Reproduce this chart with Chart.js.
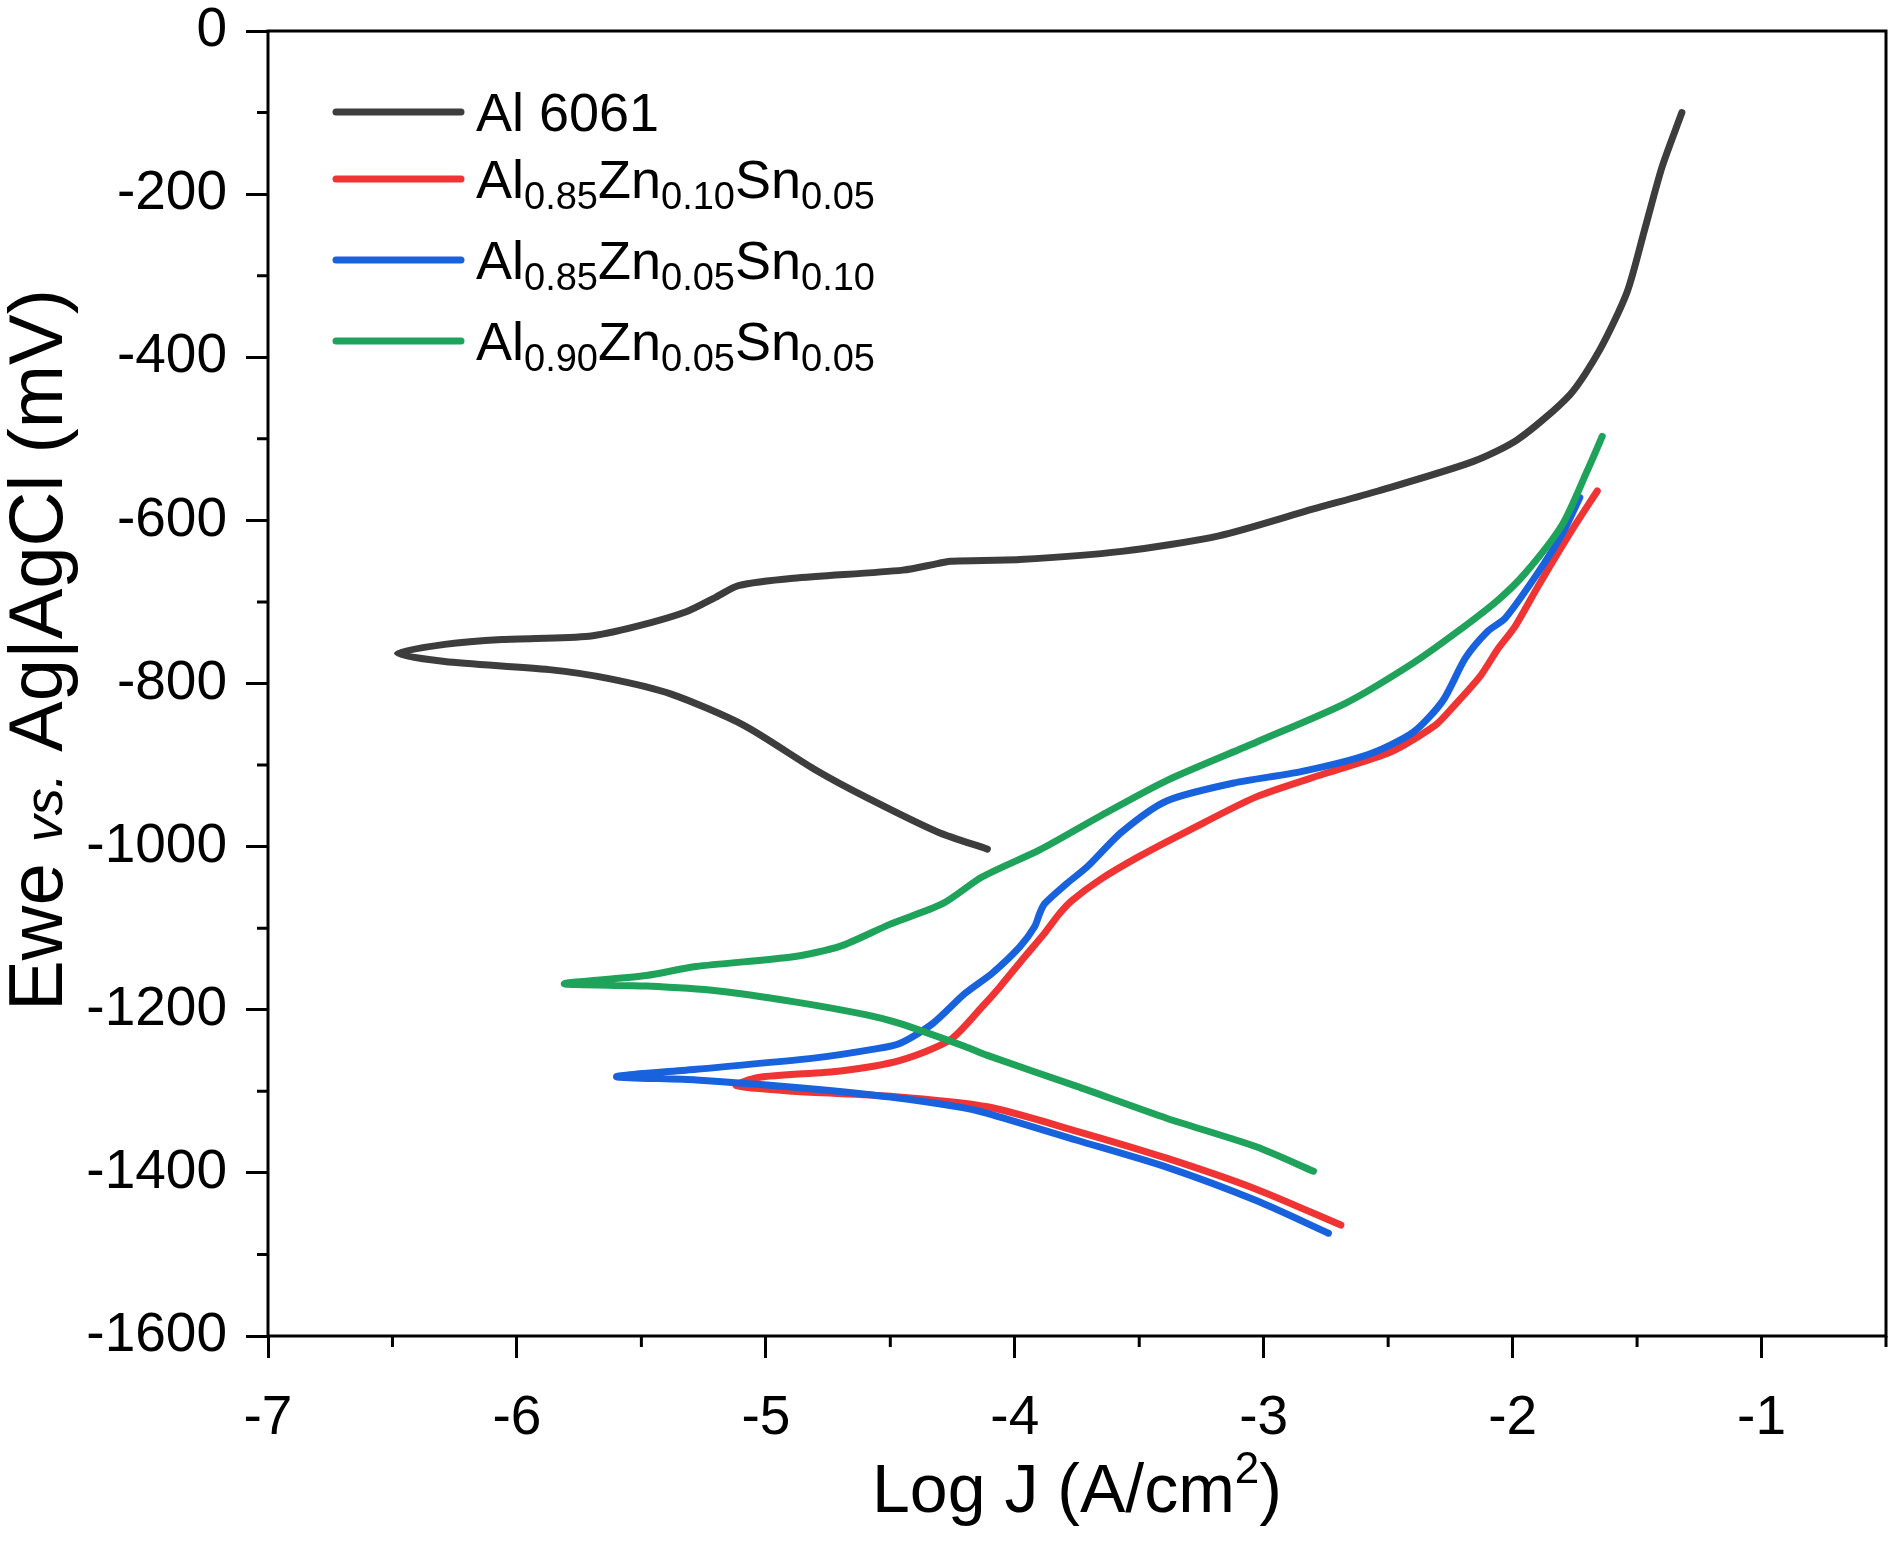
<!DOCTYPE html>
<html>
<head>
<meta charset="utf-8">
<title>Polarisation curves</title>
<script src="https://cdn.jsdelivr.net/npm/chart.js@4.4.1/dist/chart.umd.min.js"></script>
<style>
    html, body { margin: 0; padding: 0; background: #ffffff; }
    #myChart { display: block; }
</style>
</head>
<body>
<canvas id="myChart" width="1900" height="1560"></canvas>
<script>
// axis limits and ticks
const xMin = -7, xMax = -0.5;
const yMin = -1600, yMax = 0;
const xMinorTicks = [-6.5, -5.5, -4.5, -3.5, -2.5, -1.5, -0.5];
const yMinorTicks = [-100, -300, -500, -700, -900, -1100, -1300, -1500];

const seriesNames = ['Al 6061', 'Al0.85Zn0.10Sn0.05', 'Al0.85Zn0.05Sn0.10', 'Al0.90Zn0.05Sn0.05'];
const seriesColors = ['#3d3d3d', '#f03434', '#1862de', '#1fa25a'];

// Log J (A/cm2) and Ewe (mV): cathodic end -> Ecorr -> anodic end
const al6061LogJ = [-4.11, -4.31, -4.60, -4.80, -5.09, -5.38, -5.63, -5.87, -6.29, -6.48,
    -6.29, -6.06, -5.71, -5.52, -5.32, -5.20, -5.11, -4.89, -4.45, -4.31, -4.26, -3.98,
    -3.57, -3.18, -2.80, -2.54, -2.16, -1.98, -1.77, -1.65, -1.54, -1.47, -1.40, -1.32];
const al6061E = [-1003, -982, -939, -906, -851, -813, -794, -783, -773, -763,
    -752, -746, -742, -730, -712, -694, -680, -671, -661, -653, -650, -648,
    -638, -619, -586, -564, -528, -501, -446, -391, -320, -244, -167, -100];

const zn10LogJ = [-2.69, -3.03, -3.39, -3.75, -4.11, -4.50, -4.89, -5.12,
    -5.03, -4.70, -4.46, -4.26, -4.13, -4.06, -3.96, -3.88, -3.82, -3.77, -3.66, -3.50,
    -3.30, -3.03, -2.76, -2.49, -2.31, -2.24, -2.13, -2.06, -1.99, -1.90, -1.77, -1.66];
const zn10E = [-1464, -1420, -1382, -1349, -1319, -1306, -1300, -1293,
    -1283, -1275, -1262, -1237, -1196, -1172, -1135, -1106, -1082, -1066, -1041, -1012,
    -980, -939, -911, -884, -851, -829, -791, -758, -730, -682, -616, -564];

const sn10LogJ = [-2.74, -3.03, -3.39, -3.75, -4.11, -4.21, -4.50, -4.89, -5.28, -5.60,
    -5.28, -4.80, -4.56, -4.46, -4.33, -4.20, -4.09, -3.98, -3.92, -3.90, -3.88, -3.79,
    -3.71, -3.57, -3.39, -3.12, -2.85, -2.58, -2.40, -2.28, -2.19, -2.10, -2.03, -1.90,
    -1.80, -1.73];
const sn10E = [-1474, -1434, -1393, -1360, -1327, -1320, -1307, -1295, -1286, -1282,
    -1273, -1259, -1248, -1241, -1217, -1180, -1155, -1123, -1098, -1082, -1070, -1045,
    -1025, -982, -944, -922, -908, -887, -860, -821, -769, -736, -720, -665,
    -616, -572];

const al90LogJ = [-2.80, -3.03, -3.39, -3.75, -4.11, -4.20, -4.46, -4.60, -4.89, -5.19, -5.48, -5.81,
    -5.48, -5.28, -4.89, -4.70, -4.50, -4.29, -4.13, -3.90, -3.66, -3.39, -3.03, -2.67,
    -2.40, -2.22, -2.06, -1.95, -1.80, -1.70, -1.64];
const al90E = [-1398, -1368, -1333, -1294, -1256, -1245, -1217, -1206, -1190, -1177, -1171, -1168,
    -1158, -1147, -1135, -1122, -1095, -1070, -1037, -1004, -963, -919, -872, -824,
    -775, -736, -698, -665, -605, -539, -497];

const fontFamily = '"Liberation Sans", Arial, Helvetica, sans-serif';

function toPoints(xs, ys) {
    return xs.map((x, i) => ({x: x, y: ys[i]}));
}

function makeDataset(i, xs, ys, order) {
    return {
        label: seriesNames[i],
        data: toPoints(xs, ys),
        borderColor: seriesColors[i],
        backgroundColor: seriesColors[i],
        borderWidth: 7,
        pointRadius: 0,
        tension: 0.25,
        borderCapStyle: 'round',
        borderJoinStyle: 'round',
        fill: false,
        order: order
    };
}

// draw a run of text pieces, each with its own font and baseline shift
function drawRuns(ctx, runs, x, y) {
    let cx = x;
    runs.forEach(r => {
        ctx.font = r.font;
        ctx.fillText(r.text, cx, y + (r.dy || 0));
        cx += ctx.measureText(r.text).width;
    });
}

function runsWidth(ctx, runs) {
    let w = 0;
    runs.forEach(r => {
        ctx.font = r.font;
        w += ctx.measureText(r.text).width;
    });
    return w;
}

// chemical formula -> element symbols normal, fractions as subscripts
function labelRuns(label) {
    const main = '54px ' + fontFamily;
    const sub = '38px ' + fontFamily;
    if (!/^([A-Z][a-z]?\d+\.\d+)+$/.test(label)) {
        return [{text: label, font: main}];
    }
    return label.match(/[A-Z][a-z]?|\d+\.\d+/g).map(t =>
        /\d/.test(t) ? {text: t, font: sub, dy: 16} : {text: t, font: main});
}

const decorPlugin = {
    id: 'decor',
    afterDraw(chart) {
        const ctx = chart.ctx;
        const area = chart.chartArea;
        const xs = chart.scales.x;
        const ys = chart.scales.y;
        ctx.save();

        // frame
        ctx.strokeStyle = '#000';
        ctx.lineWidth = 3;
        ctx.strokeRect(area.left, area.top, area.right - area.left, area.bottom - area.top);

        // minor ticks
        ctx.beginPath();
        xMinorTicks.forEach(v => {
            const px = xs.getPixelForValue(v);
            ctx.moveTo(px, area.bottom);
            ctx.lineTo(px, area.bottom + 11);
        });
        yMinorTicks.forEach(v => {
            const py = ys.getPixelForValue(v);
            ctx.moveTo(area.left, py);
            ctx.lineTo(area.left - 11, py);
        });
        ctx.stroke();

        // legend
        const rows = [112, 179, 260, 341];
        ctx.textBaseline = 'middle';
        chart.data.datasets.forEach((ds, i) => {
            const y = rows[i];
            ctx.strokeStyle = ds.borderColor;
            ctx.lineWidth = 7;
            ctx.lineCap = 'round';
            ctx.beginPath();
            ctx.moveTo(336, y);
            ctx.lineTo(461, y);
            ctx.stroke();
            ctx.fillStyle = '#000';
            drawRuns(ctx, labelRuns(ds.label), 476, y + 4);
        });

        // axis titles
        ctx.fillStyle = '#000';
        ctx.textBaseline = 'alphabetic';
        const xBig = '68px ' + fontFamily;
        const xTitle = [
            {text: 'Log J (A/cm', font: xBig},
            {text: '2', font: '44px ' + fontFamily, dy: -29},
            {text: ')', font: xBig}
        ];
        const cxMid = (area.left + area.right) / 2;
        drawRuns(ctx, xTitle, cxMid - runsWidth(ctx, xTitle) / 2, 1512);

        const yBig = '76px ' + fontFamily;
        const yTitle = [
            {text: 'Ewe ', font: yBig},
            {text: 'vs.', font: 'italic 54px ' + fontFamily},
            {text: ' Ag|AgCl (mV)', font: yBig}
        ];
        ctx.translate(62, 650);
        ctx.rotate(-Math.PI / 2);
        drawRuns(ctx, yTitle, -runsWidth(ctx, yTitle) / 2, 0);

        ctx.restore();
    }
};

const tickFont = {family: fontFamily, size: 55};

const ctx = document.getElementById('myChart').getContext('2d');
const chart = new Chart(ctx, {
    type: 'line',
    data: {
        datasets: [
            makeDataset(0, al6061LogJ, al6061E, 3),
            makeDataset(1, zn10LogJ, zn10E, 2),
            makeDataset(2, sn10LogJ, sn10E, 1),
            makeDataset(3, al90LogJ, al90E, 0)
        ]
    },
    options: {
        responsive: false,
        animation: false,
        devicePixelRatio: 1,
        layout: {padding: {left: 0, right: 14, top: 31, bottom: 0}},
        scales: {
            x: {
                type: 'linear',
                min: xMin,
                max: xMax,
                afterFit: s => {
                    s.height = 224;
                    s.paddingLeft = 0;
                    s.paddingRight = 0;
                },
                ticks: {
                    stepSize: 1,
                    includeBounds: false,
                    autoSkip: false,
                    maxRotation: 0,
                    padding: 28,
                    color: '#000',
                    font: tickFont,
                    callback: v => String(v)
                },
                grid: {
                    drawOnChartArea: false,
                    tickLength: 22,
                    tickWidth: 3,
                    tickColor: '#000',
                    color: '#000'
                },
                border: {display: false}
            },
            y: {
                type: 'linear',
                min: yMin,
                max: yMax,
                afterFit: s => {
                    s.width = 268;
                    s.paddingTop = 0;
                    s.paddingBottom = 0;
                },
                ticks: {
                    stepSize: 200,
                    includeBounds: false,
                    autoSkip: false,
                    padding: 19,
                    color: '#000',
                    font: tickFont,
                    callback: v => String(v)
                },
                grid: {
                    drawOnChartArea: false,
                    tickLength: 22,
                    tickWidth: 3,
                    tickColor: '#000',
                    color: '#000'
                },
                border: {display: false}
            }
        },
        plugins: {
            legend: {display: false},
            tooltip: {enabled: false}
        }
    },
    plugins: [decorPlugin]
});
</script>
</body>
</html>
